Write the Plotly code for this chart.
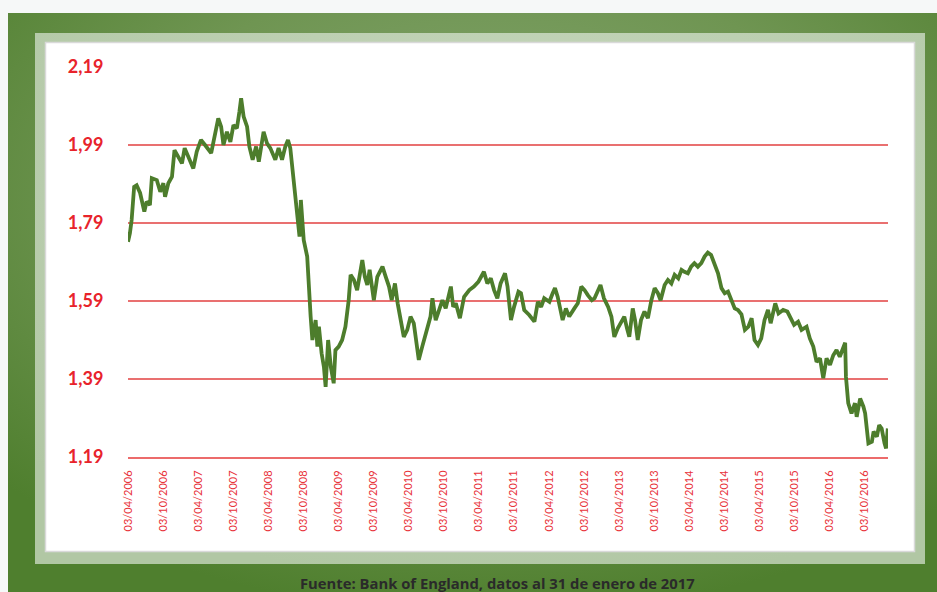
import base64
import plotly.graph_objects as go

# ---------------- data ----------------
dates = [
    "2006-04-03", "2006-04-13", "2006-04-22", "2006-05-05", "2006-05-18", "2006-06-05", "2006-06-27",
    "2006-07-09", "2006-07-26", "2006-08-05", "2006-08-31", "2006-09-18", "2006-10-04", "2006-10-13",
    "2006-10-30", "2006-11-18", "2006-12-01", "2006-12-22", "2007-01-09", "2007-01-23", "2007-02-13",
    "2007-03-09", "2007-03-27", "2007-04-18", "2007-05-09", "2007-06-10", "2007-06-22", "2007-07-17",
    "2007-08-01", "2007-08-13", "2007-08-31", "2007-09-18", "2007-10-04", "2007-10-22", "2007-11-04",
    "2007-11-13", "2007-11-26", "2007-12-14", "2007-12-26", "2008-01-12", "2008-01-30", "2008-02-13",
    "2008-03-09", "2008-03-27", "2008-04-13", "2008-05-09", "2008-05-26", "2008-06-13", "2008-06-30",
    "2008-07-14", "2008-07-26", "2008-08-08", "2008-08-22", "2008-09-05", "2008-09-12", "2008-09-19",
    "2008-09-29", "2008-10-04", "2008-10-22", "2008-10-30", "2008-11-09", "2008-11-18", "2008-12-05",
    "2008-12-14", "2008-12-22", "2009-01-05", "2009-01-17", "2009-01-26", "2009-02-08", "2009-02-22",
    "2009-03-09", "2009-03-18", "2009-04-04", "2009-04-22", "2009-05-09", "2009-05-26", "2009-06-05",
    "2009-06-22", "2009-07-09", "2009-07-21", "2009-08-05", "2009-08-18", "2009-08-31", "2009-09-12",
    "2009-10-04", "2009-10-22", "2009-11-18", "2009-12-05", "2009-12-22", "2010-01-05", "2010-01-22",
    "2010-02-05", "2010-02-22", "2010-03-09", "2010-03-27", "2010-04-13", "2010-04-30", "2010-05-18",
    "2010-05-26", "2010-06-13", "2010-07-04", "2010-07-26", "2010-08-05", "2010-08-22", "2010-09-09",
    "2010-09-26", "2010-10-13", "2010-10-27", "2010-11-09", "2010-11-21", "2010-12-05", "2010-12-26",
    "2011-01-17", "2011-02-13", "2011-03-09", "2011-04-01", "2011-04-22", "2011-04-30", "2011-05-18",
    "2011-06-05", "2011-06-22", "2011-07-09", "2011-07-26", "2011-08-18", "2011-08-31", "2011-09-18",
    "2011-10-04", "2011-10-27", "2011-11-09", "2011-11-26", "2011-12-22", "2012-01-18", "2012-02-05",
    "2012-02-22", "2012-03-09", "2012-04-05", "2012-04-22", "2012-05-04", "2012-05-18", "2012-06-01",
    "2012-06-13", "2012-06-30", "2012-07-17", "2012-08-13", "2012-08-31", "2012-09-18", "2012-10-05",
    "2012-10-22", "2012-11-12", "2012-11-26", "2012-12-13", "2012-12-27", "2013-01-14", "2013-02-05",
    "2013-02-22", "2013-03-09", "2013-03-27", "2013-04-13", "2013-04-30", "2013-05-14", "2013-05-26",
    "2013-06-13", "2013-06-25", "2013-07-09", "2013-07-26", "2013-08-13", "2013-08-31", "2013-09-18",
    "2013-10-05", "2013-10-22", "2013-11-05", "2013-11-26", "2013-12-13", "2013-12-31", "2014-01-17",
    "2014-02-05", "2014-02-22", "2014-03-09", "2014-03-27", "2014-04-13", "2014-04-30", "2014-05-18",
    "2014-06-05", "2014-06-22", "2014-07-09", "2014-07-26", "2014-08-13", "2014-08-31", "2014-09-18",
    "2014-10-05", "2014-10-22", "2014-11-09", "2014-11-26", "2014-12-13", "2014-12-31", "2015-01-18",
    "2015-02-05", "2015-02-22", "2015-03-09", "2015-03-27", "2015-04-13", "2015-04-30", "2015-05-18",
    "2015-06-01", "2015-06-13", "2015-06-25", "2015-07-12", "2015-08-05", "2015-08-27", "2015-09-14",
    "2015-10-01", "2015-10-22", "2015-11-09", "2015-12-05", "2015-12-22", "2016-01-09", "2016-01-26",
    "2016-02-13", "2016-03-01", "2016-03-18", "2016-04-05", "2016-04-22", "2016-05-09", "2016-05-26",
    "2016-06-13", "2016-06-23", "2016-06-27", "2016-07-09", "2016-07-26", "2016-08-13", "2016-08-22",
    "2016-09-09", "2016-09-26", "2016-10-05", "2016-10-22", "2016-11-09", "2016-11-18", "2016-12-05",
    "2016-12-17", "2016-12-30", "2017-01-14", "2017-01-22", "2017-01-31",
]

gbp_usd = [
    1.742, 1.764, 1.798, 1.883, 1.887, 1.867, 1.819,
    1.845, 1.836, 1.905, 1.900, 1.870, 1.892, 1.857,
    1.892, 1.909, 1.977, 1.960, 1.943, 1.982, 1.960,
    1.930, 1.973, 2.003, 1.990, 1.969, 1.998, 2.058,
    2.037, 1.990, 2.024, 1.998, 2.041, 2.033, 2.075,
    2.110, 2.063, 2.037, 1.986, 1.952, 1.986, 1.947,
    2.024, 1.994, 1.982, 1.952, 1.982, 1.952, 1.986,
    2.003, 1.982, 1.926, 1.862, 1.798, 1.755, 1.849,
    1.781, 1.746, 1.704, 1.618, 1.550, 1.490, 1.541,
    1.473, 1.524, 1.456, 1.421, 1.370, 1.490, 1.421,
    1.379, 1.464, 1.473, 1.490, 1.524, 1.592, 1.657,
    1.644, 1.618, 1.652, 1.695, 1.652, 1.631, 1.670,
    1.592, 1.652, 1.678, 1.652, 1.627, 1.592, 1.635,
    1.584, 1.541, 1.498, 1.516, 1.550, 1.533, 1.456,
    1.439, 1.473, 1.507, 1.550, 1.597, 1.541, 1.567,
    1.592, 1.571, 1.605, 1.627, 1.575, 1.584, 1.546,
    1.601, 1.618, 1.627, 1.639, 1.661, 1.665, 1.635,
    1.648, 1.618, 1.597, 1.635, 1.661, 1.627, 1.541,
    1.575, 1.614, 1.610, 1.567, 1.554, 1.537, 1.588,
    1.575, 1.597, 1.588, 1.610, 1.623, 1.601, 1.563,
    1.541, 1.571, 1.550, 1.571, 1.584, 1.627, 1.618,
    1.605, 1.592, 1.597, 1.618, 1.631, 1.597, 1.575,
    1.550, 1.498, 1.520, 1.533, 1.550, 1.520, 1.498,
    1.571, 1.541, 1.490, 1.541, 1.563, 1.546, 1.592,
    1.623, 1.610, 1.592, 1.631, 1.644, 1.635, 1.657,
    1.648, 1.670, 1.665, 1.661, 1.678, 1.687, 1.678,
    1.687, 1.704, 1.714, 1.708, 1.682, 1.661, 1.623,
    1.610, 1.614, 1.592, 1.571, 1.567, 1.556, 1.516,
    1.524, 1.546, 1.490, 1.477, 1.494, 1.541, 1.567,
    1.533, 1.563, 1.584, 1.558, 1.567, 1.563, 1.546,
    1.529, 1.537, 1.516, 1.524, 1.494, 1.473, 1.434,
    1.443, 1.392, 1.443, 1.426, 1.451, 1.464, 1.447,
    1.468, 1.483, 1.396, 1.328, 1.302, 1.328, 1.293,
    1.340, 1.319, 1.302, 1.225, 1.229, 1.255, 1.242,
    1.272, 1.263, 1.225, 1.212, 1.263,
]

y_ticks = [1.19, 1.39, 1.59, 1.79, 1.99, 2.19]
y_tick_labels = ["1,19", "1,39", "1,59", "1,79", "1,99", "2,19"]

x_tick_dates = [
    "2006-04-03", "2006-10-03", "2007-04-03", "2007-10-03", "2008-04-03", "2008-10-03",
    "2009-04-03", "2009-10-03", "2010-04-03", "2010-10-03", "2011-04-03", "2011-10-03",
    "2012-04-03", "2012-10-03", "2013-04-03", "2013-10-03", "2014-04-03", "2014-10-03",
    "2015-04-03", "2015-10-03", "2016-04-03", "2016-10-03",
]
x_tick_labels = [
    "03/04/2006", "03/10/2006", "03/04/2007", "03/10/2007", "03/04/2008", "03/10/2008",
    "03/04/2009", "03/10/2009", "03/04/2010", "03/10/2010", "03/04/2011", "03/10/2011",
    "03/04/2012", "03/10/2012", "03/04/2013", "03/10/2013", "03/04/2014", "03/10/2014",
    "03/04/2015", "03/10/2015", "03/04/2016", "03/10/2016",
]

source_text = "Fuente: Bank of England, datos al 31 de enero de 2017"

# ---------------- layout geometry ----------------
W, H = 937, 592
PL, PR, PT, PB = 128, 888, 67, 457  # plot area in pixels


def px_x(px):
    return (px - PL) / (PR - PL)


def px_y(py):
    return (PB - py) / (PB - PT)


bg_svg = f"""<svg xmlns='http://www.w3.org/2000/svg' width='{W}' height='{H}' viewBox='0 0 {W} {H}' preserveAspectRatio='none'>
<defs>
<radialGradient id='g' cx='0.52' cy='0.32' r='0.72'>
<stop offset='0' stop-color='#86a772'/>
<stop offset='0.55' stop-color='#6f9552'/>
<stop offset='1' stop-color='#4f7f2e'/>
</radialGradient>
<radialGradient id='p' cx='0.55' cy='0.3' r='0.75'>
<stop offset='0' stop-color='#c9d9c0'/>
<stop offset='1' stop-color='#b1c7a4'/>
</radialGradient>
</defs>
<rect x='0' y='0' width='{W}' height='{H}' fill='#f6f8f8'/>
<rect x='8' y='13' width='{W-8}' height='{H-13}' fill='url(#g)'/>
<rect x='35' y='33' width='890' height='531' fill='url(#p)'/>
<rect x='45.5' y='42.5' width='869' height='509' fill='#ffffff' stroke='#d9d9d9' stroke-width='1.5'/>
</svg>"""
bg_uri = "data:image/svg+xml;base64," + base64.b64encode(bg_svg.encode()).decode()

fig = go.Figure()
fig.add_trace(go.Scatter(
    x=dates, y=gbp_usd, mode="lines",
    line=dict(color="#4d7d2c", width=3.8),
    hoverinfo="skip", showlegend=False,
))

fig.update_layout(
    width=W, height=H, autosize=False,
    margin=dict(l=PL, r=W - PR, t=PT, b=H - PB, pad=0),
    paper_bgcolor="#f6f8f8",
    plot_bgcolor="rgba(0,0,0,0)",
    images=[dict(
        source=bg_uri, xref="paper", yref="paper",
        x=px_x(0), y=px_y(0), sizex=W / (PR - PL), sizey=H / (PB - PT),
        xanchor="left", yanchor="top", sizing="stretch", layer="below",
    )],
    xaxis=dict(
        type="date",
        range=["2006-04-03", "2017-02-01"],
        tickvals=x_tick_dates, ticktext=x_tick_labels,
        tickangle=-90,
        tickfont=dict(family="Lato, Liberation Sans Narrow, sans-serif", size=11, color="#e8323a"),
        showgrid=False, zeroline=False,
        showline=True, linecolor="#ec6b6b", linewidth=2,
        ticks="outside", ticklen=7, tickcolor="rgba(0,0,0,0)",
    ),
    yaxis=dict(
        range=[1.19, 2.19],
        tickvals=y_ticks, ticktext=y_tick_labels,
        tickfont=dict(family="Lato, sans-serif", size=18, color="#e8232b", weight="bold"),
        showgrid=True, gridcolor="#e97070", gridwidth=1.6,
        zeroline=False, showline=False,
        ticks="outside", ticklen=20, tickcolor="rgba(0,0,0,0)",
    ),
    annotations=[dict(
        text=source_text, xref="paper", yref="paper",
        x=px_x(497), y=px_y(583), xanchor="center", yanchor="middle",
        showarrow=False,
        font=dict(family="Open Sans, sans-serif", size=14.8, color="#2a2a2a", weight="bold"),
    )],
)

fig.write_html(
    "out.html",
    config={"displayModeBar": False, "staticPlot": True},
    post_script="document.body.style.margin='0px';document.body.style.padding='0px';"
                "document.body.style.overflow='hidden';",
)
